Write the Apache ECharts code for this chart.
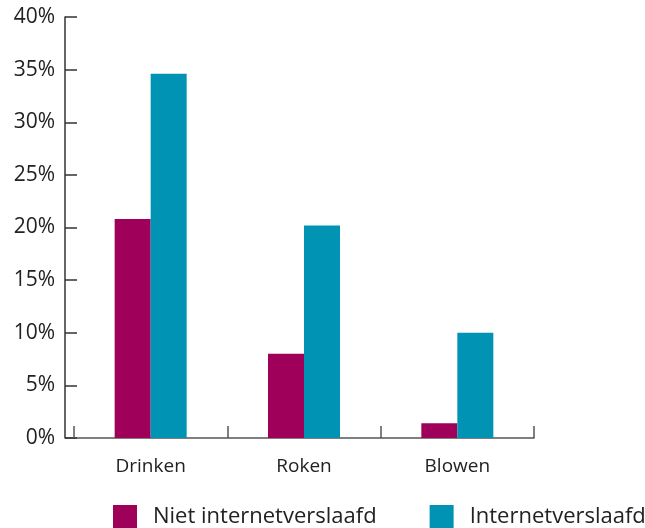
<!DOCTYPE html>
<html><head><meta charset="utf-8">
<script src="https://cdn.jsdelivr.net/npm/echarts@6/dist/echarts.min.js"></script>
<style>html,body{margin:0;padding:0;background:#fff}#c{width:645px;height:528px}</style>
</head><body><div id="c"></div>
<script>
const categories = ['Drinken', 'Roken', 'Blowen'];
const seriesNames = ['Niet internetverslaafd', 'Internetverslaafd'];
const nietValues = [20.8, 8.0, 1.4];
const internetValues = [34.6, 20.2, 10.0];
const yTicks = [0, 5, 10, 15, 20, 25, 30, 35, 40];

const FONT = 'Open Sans';
const chart = echarts.init(document.getElementById('c'), null, {renderer: 'canvas'});
const option = {
  animation: false,
  backgroundColor: '#fff',
  textStyle: {fontFamily: FONT},
  grid: {left: 74, right: 111, top: 17, bottom: 90, containLabel: false},
  legend: {
    data: seriesNames,
    left: 113, top: 505, padding: 0, width: 600,
    itemWidth: 24, itemHeight: 24, itemGap: 53,
    icon: 'rect',
    textStyle: {fontFamily: FONT, fontSize: 22, color: '#222', padding: [8, 0, 0, 11]}
  },
  xAxis: {
    type: 'category',
    data: categories,
    axisLine: {show: true, lineStyle: {color: '#555', width: 1.5}},
    axisTick: {show: true, inside: true, length: 12, lineStyle: {color: '#555', width: 1.5}},
    axisLabel: {fontFamily: FONT, fontSize: 19, color: '#222', margin: 19}
  },
  yAxis: {
    type: 'value', min: yTicks[0], max: yTicks[yTicks.length - 1], interval: 5,
    offset: 9,
    axisLine: {show: true, lineStyle: {color: '#333', width: 1.5}},
    axisTick: {show: true, inside: true, length: 12, lineStyle: {color: '#333', width: 1.5}},
    splitLine: {show: false},
    axisLabel: {fontFamily: FONT, fontSize: 21, color: '#222', margin: 10, formatter: v => v + '%'}
  },
  series: [
    {name: seriesNames[0], type: 'bar', data: nietValues, barWidth: 36, barGap: '0%', itemStyle: {color: '#9E005A'}},
    {name: seriesNames[1], type: 'bar', data: internetValues, barWidth: 36, barGap: '0%', itemStyle: {color: '#0093B4'}}
  ]
};
chart.setOption(option);
const z = chart.convertToPixel({yAxisIndex: 0}, 0);
chart.setOption({graphic: [{type: 'line', shape: {x1: 65, y1: z, x2: 75, y2: z}, style: {stroke: '#555', lineWidth: 1.5}}]});
</script></body></html>
